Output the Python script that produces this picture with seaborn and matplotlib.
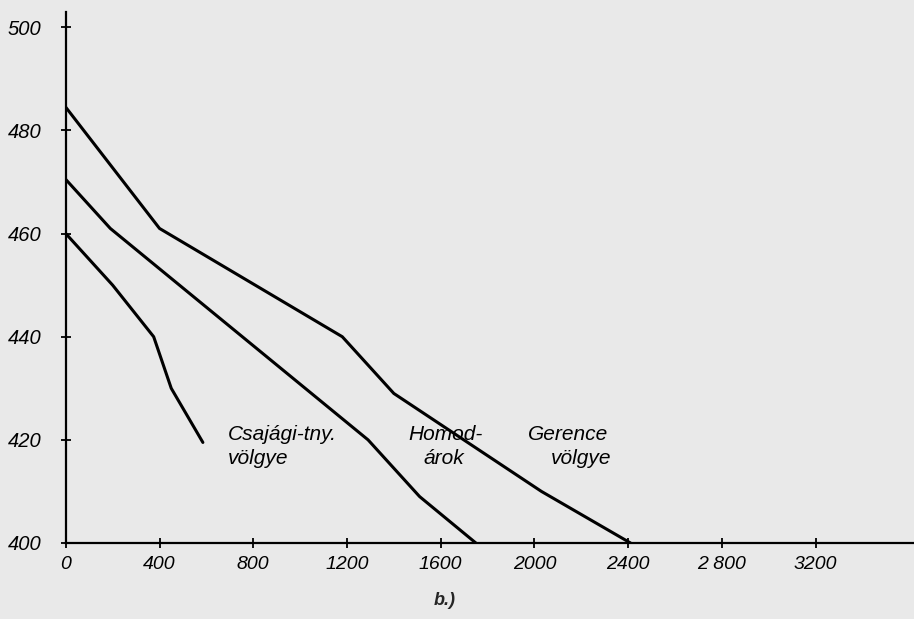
# Longitudinal profiles of three valleys (height vs distance)

import matplotlib
matplotlib.use("Agg")
import matplotlib.pyplot as plt
import pandas as pd
import seaborn as sns

# -- Data ----------------------------------------------------------------------
gerence_x = [0, 400, 1180, 1400, 2030, 2410]
gerence_y = [484.5, 461, 440, 429, 410, 400]

homod_x = [0, 190, 1290, 1510, 1750]
homod_y = [470.5, 461, 420, 409, 400]

csajagi_x = [0, 200, 375, 450, 585]
csajagi_y = [460, 450, 440, 430, 419.5]

x_ticks = [0, 400, 800, 1200, 1600, 2000, 2400, 2800, 3200]
x_tick_labels = ["0", "400", "800", "1200", "1600", "2000", "2400", "2 800", "3200"]
y_ticks = [400, 420, 440, 460, 480, 500]

df = pd.concat([
    pd.DataFrame({"x": gerence_x, "y": gerence_y, "valley": "Gerence"}),
    pd.DataFrame({"x": homod_x, "y": homod_y, "valley": "Homod"}),
    pd.DataFrame({"x": csajagi_x, "y": csajagi_y, "valley": "Csajagi"}),
])

# -- Plot ----------------------------------------------------------------------
sns.set_style("white")
plt.rcParams["font.family"] = ["Liberation Sans", "DejaVu Sans"]
bg = "#e9e9e9"

fig = plt.figure(figsize=(9.14, 6.19), dpi=100, facecolor=bg)
ax = fig.add_axes([0.072, 0.1228, 0.928, 0.858])
ax.set_facecolor(bg)

sns.lineplot(data=df, x="x", y="y", units="valley", estimator=None, sort=False,
             color="black", linewidth=2.2, ax=ax)

ax.set_xlim(0, 3620)
ax.set_ylim(400, 503)
ax.set_xlabel("")
ax.set_ylabel("")

for side in ["top", "right"]:
    ax.spines[side].set_visible(False)
for side in ["left", "bottom"]:
    ax.spines[side].set_linewidth(1.6)
    ax.spines[side].set_color("black")

ax.set_xticks(x_ticks)
ax.set_xticklabels(x_tick_labels)
ax.set_yticks(y_ticks)
ax.tick_params(axis="both", bottom=True, left=True, direction="inout", length=7,
               width=1.3, color="black", labelcolor="black", labelsize=14)
ax.tick_params(axis="y", pad=14, labelsize=14.5)
ax.tick_params(axis="x", pad=6)
for lbl in ax.get_xticklabels() + ax.get_yticklabels():
    lbl.set_fontstyle("italic")

txt = dict(fontsize=15, style="italic", color="black", ha="left", va="center")
ax.text(692, 421, "Csajági-tny.", **txt)
ax.text(692, 416.4, "völgye", **txt)
ax.text(1460, 421, "Homod-", **txt)
ax.text(1525, 416.4, "árok", **txt)
ax.text(1973, 421, "Gerence", **txt)
ax.text(2070, 416.4, "völgye", **txt)

fig.text(0.487, 0.03, "b.)", ha="center", va="center", fontsize=13, style="italic",
         fontweight="bold")

fig.savefig("out.png", dpi=100, facecolor=bg)
